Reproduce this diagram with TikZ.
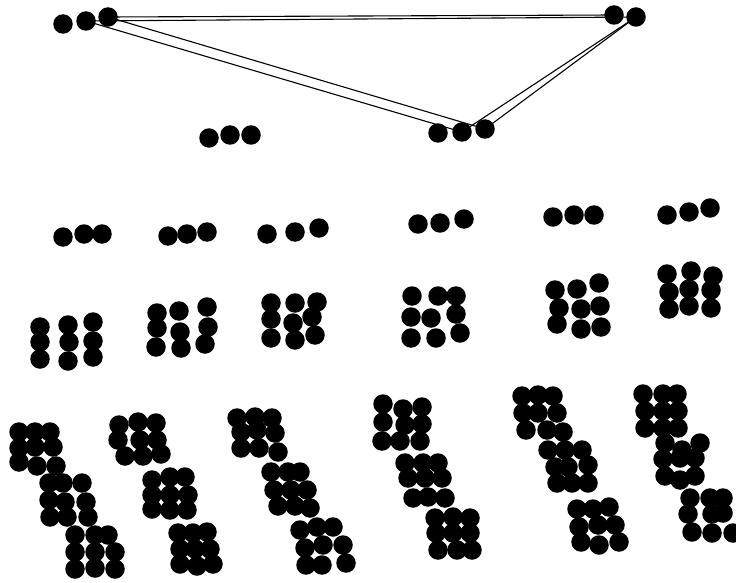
\documentclass[tikz,border=0pt]{standalone}
\begin{document}
\begin{tikzpicture}[x=1pt,y=-1pt,
  dot/.style={circle,fill=black,draw=none,inner sep=0pt,minimum size=19.5pt},
  link/.style={line width=1.1pt,black}]
\useasboundingbox (0,0) rectangle (736,583);
% top triangle of triples
\foreach \x/\y [count=\i] in {63/24,86/21,108/17} \node[dot] (a\i) at (\x,\y) {};
\foreach \x/\y [count=\i] in {614/15,636/17} \node[dot] (b\i) at (\x,\y) {};
\foreach \x/\y [count=\i] in {438/133,462/132,485/129} \node[dot] (c\i) at (\x,\y) {};
\draw[link] (a2.center) -- (b2.center);
\draw[link] (a3.center) -- (b1.center);
\draw[link] (a2.center) -- (c2.center);
\draw[link] (a3.center) -- (c3.center);
\draw[link] (b2.center) -- (c2.center);
\draw[link] (b2.center) -- (c3.center);
\foreach \x/\y [count=\i] in {209/138,230/135,251/135} \node[dot] (e\i) at (\x,\y) {};
% second row of triples
\foreach \x/\y [count=\i] in {
  63/237,84/234,102/234, 168/236,187/234,207/232, 267/234,295/232,319/228,
  418/224,440/223,464/219, 553/217,574/215,594/215, 667/215,689/212,710/208}
  \node[dot] (r\i) at (\x,\y) {};
% third row: 3x3 blocks
\foreach \x/\y [count=\i] in {
  40/327,40/342,40/359, 68/325,69/342,68/361, 93/322,93/341,93/357,
  157/313,157/328,156/347, 179/311,180/332,181/348, 207/307,208/327,205/344,
  271/303,271/319,271/338, 295/303,293/323,295/340, 317/302,312/317,315/335,
  412/296,438/296,456/296, 411/317,431/318,456/314, 411/338,436/338,460/333,
  555/290,577/289,599/283, 559/308,581/309,600/306, 557/324,581/329,601/327,
  667/274,691/271,713/276, 669/292,689/289,711/290, 669/309,689/306,711/308}
  \node[dot] (s\i) at (\x,\y) {};
% bottom row: diagonal chains of 3x3 blocks
\foreach \x/\y [count=\i] in {
  19/432,35/432,50/432, 19/448,35/447,53/447, 19/462,37/466,56/466,
  49/483,63/483,82/483, 49/500,65/502,86/502, 50/517,67/517,88/517,
  75/535,95/535,108/535, 75/552,95/552,115/552, 75/569,95/568,115/569,
  119/425,138/422,156/423, 118/440,140/440,157/440, 125/456,143/456,161/454,
  152/480,170/477,185/477, 152/495,170/495,188/495, 152/509,170/510,187/510,
  178/533,193/533,207/532, 180/549,195/549,210/549, 180/564,197/566,213/564,
  237/418,255/417,272/418, 241/432,257/430,275/433, 241/448,259/448,278/452,
  271/472,288/472,300/472, 274/490,291/490,307/490, 278/506,295/506,310/508,
  300/530,317/527,333/527, 305/548,323/545,343/545, 306/565,322/565,346/563,
  383/404,403/409,422/407, 383/422,405/425,422/424, 382/441,400/441,420/441,
  405/463,423/463,438/463, 408/478,425/478,442/478, 413/498,428/497,445/498,
  435/518,453/517,470/518, 436/533,453/533,470/533, 438/550,457/550,472/550,
  522/396,538/395,553/396, 523/413,538/413,557/413, 526/430,547/430,563/432,
  548/450,565/450,582/450, 555/467,568/467,588/465, 557/483,572/483,588/483,
  577/509,593/509,609/507, 579/527,598/525,615/525, 581/542,599/545,619/542,
  643/394,663/394,677/394, 645/411,663/411,678/411, 645/428,663/428,678/428,
  665/443,682/450,700/443, 663/459,680/458,695/458, 665/476,680/480,695/476,
  690/498,710/498,723/498, 688/514,712/514,723/513, 692/532,712/533,733/533}
  \node[dot] (u\i) at (\x,\y) {};
\end{tikzpicture}
\end{document}
